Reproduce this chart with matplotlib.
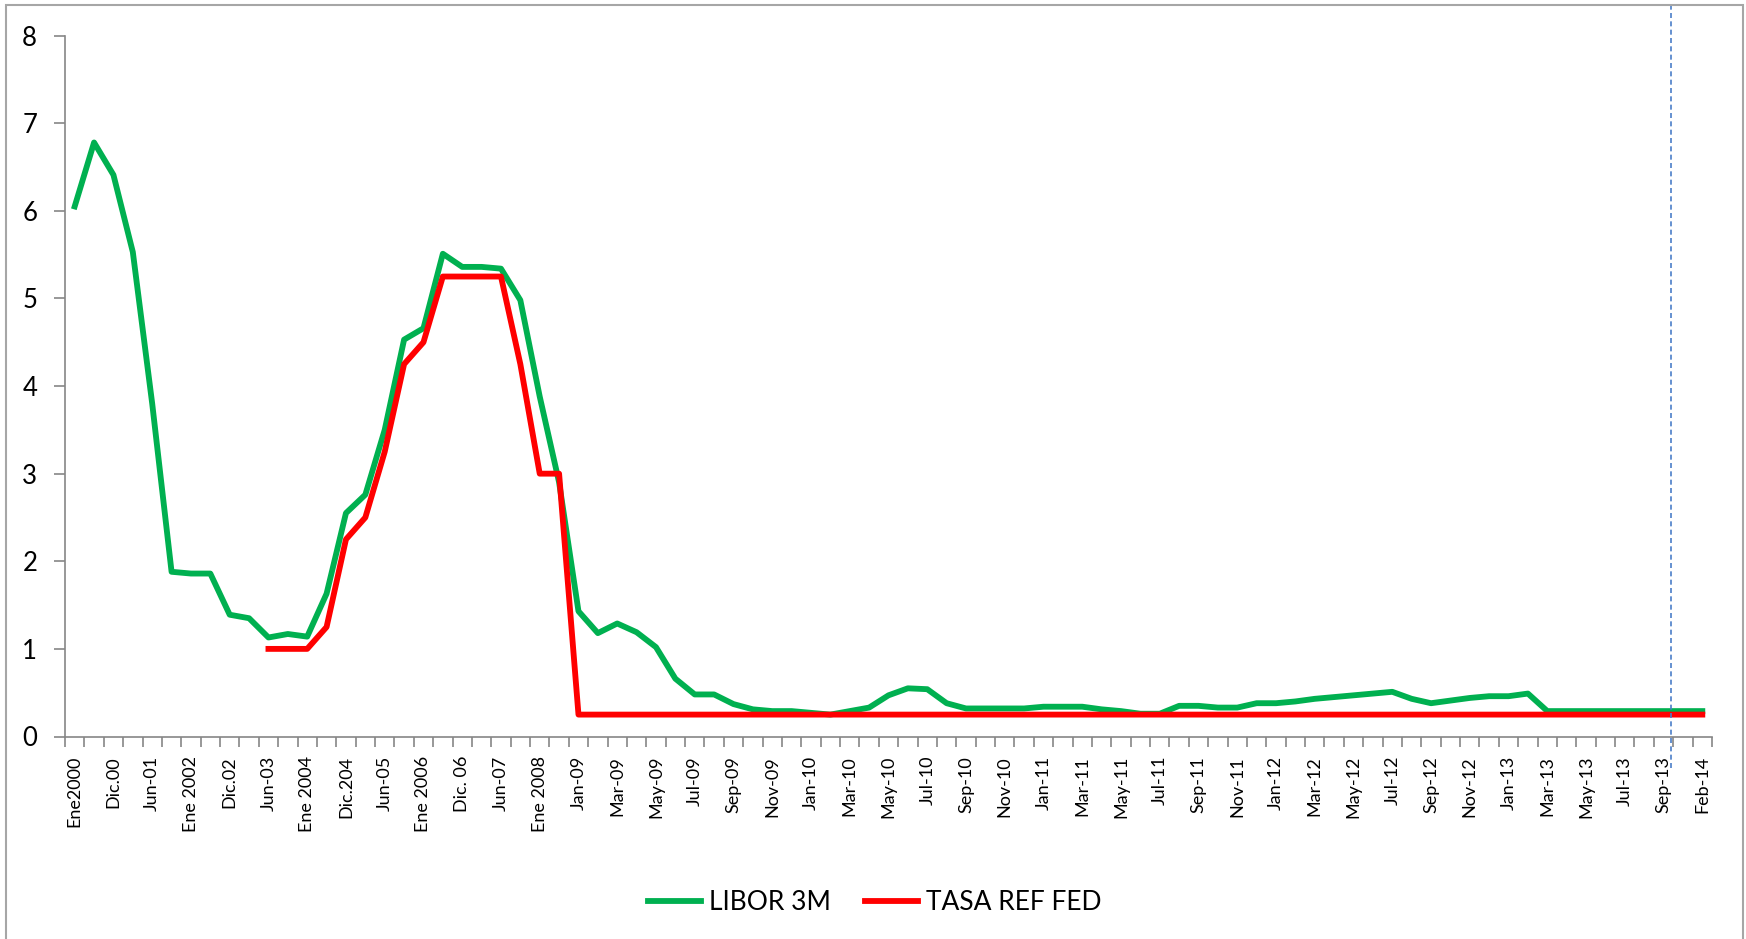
import matplotlib.pyplot as plt
import numpy as np
from matplotlib.patches import Rectangle

plt.rcParams['font.family'] = ['Lato', 'DejaVu Sans']

# category axis: 85 points, only every other one is labelled
tick_labels = ['Ene2000', 'Dic.00', 'Jun-01', 'Ene 2002', 'Dic.02', 'Jun-03',
               'Ene 2004', 'Dic.204', 'Jun-05', 'Ene 2006', 'Dic. 06', 'Jun-07',
               'Ene 2008', 'Jan-09', 'Mar-09', 'May-09', 'Jul-09', 'Sep-09',
               'Nov-09', 'Jan-10', 'Mar-10', 'May-10', 'Jul-10', 'Sep-10',
               'Nov-10', 'Jan-11', 'Mar-11', 'May-11', 'Jul-11', 'Sep-11',
               'Nov-11', 'Jan-12', 'Mar-12', 'May-12', 'Jul-12', 'Sep-12',
               'Nov-12', 'Jan-13', 'Mar-13', 'May-13', 'Jul-13', 'Sep-13',
               'Feb-14']

libor = [6.05, 6.78, 6.41, 5.53, 3.80, 1.88, 1.86, 1.86, 1.39, 1.35,
         1.13, 1.17, 1.14, 1.63, 2.55, 2.76, 3.50, 4.53, 4.66, 5.51,
         5.36, 5.36, 5.34, 4.98, 3.88, 2.90, 1.43, 1.18, 1.29, 1.19,
         1.02, 0.66, 0.48, 0.48, 0.37, 0.31, 0.29, 0.29, 0.27, 0.25,
         0.29, 0.33, 0.47, 0.55, 0.54, 0.38, 0.32, 0.32, 0.32, 0.32,
         0.34, 0.34, 0.34, 0.31, 0.29, 0.26, 0.26, 0.35, 0.35, 0.33,
         0.33, 0.38, 0.38, 0.40, 0.43, 0.45, 0.47, 0.49, 0.51, 0.43,
         0.38, 0.41, 0.44, 0.46, 0.46, 0.49, 0.29, 0.29, 0.29, 0.29,
         0.29, 0.29, 0.29, 0.29, 0.29]

# fed rate starts at Jun-03 (category 10)
fed_start = 10
tasa_fed = [1.00, 1.00, 1.00, 1.25, 2.25, 2.50, 3.25, 4.25, 4.50, 5.25,
            5.25, 5.25, 5.25, 4.25, 3.00, 3.00] + [0.25] * 59

marker_x = 82.4   # dashed vertical marker near Sep-13

fig = plt.figure(figsize=(17.46, 9.39), dpi=100)
ax = fig.add_axes([65 / 1746, 1 - 736.5 / 939, (1712 - 65) / 1746, (736.5 - 35.6) / 939])

x = np.arange(len(libor))
ax.plot(x, libor, color='#00B050', lw=4.2, label='LIBOR 3M')
ax.plot(x[fed_start:], tasa_fed, color='#FF0000', lw=4.2, label='TASA REF FED')

ax.vlines(marker_x, -0.36, 8.35, colors='#4A7EC8', linestyles=(0, (3, 2)),
          lw=1.2, clip_on=False)

ax.set_xlim(-0.5, len(libor) - 0.5)
ax.set_ylim(0, 8)

for s in ['top', 'right']:
    ax.spines[s].set_visible(False)
for s in ['left', 'bottom']:
    ax.spines[s].set_color('#868686')
    ax.spines[s].set_linewidth(1.2)

ax.set_yticks(range(0, 9))
ax.tick_params(axis='y', direction='out', length=8, width=1.2, color='#868686',
               labelsize=18.5, pad=12)

ax.set_xticks(np.arange(-0.5, len(libor), 1))
ax.set_xticklabels([])
ax.set_xticks(np.arange(0, len(libor), 2), minor=True)
ax.set_xticklabels(tick_labels, minor=True, rotation=90, fontsize=13)
ax.tick_params(axis='x', which='major', direction='out', length=7.5, width=1.2,
               color='#868686')
ax.tick_params(axis='x', which='minor', length=0, pad=14)

fig.legend(loc='center', bbox_to_anchor=(875 / 1746, 1 - 903 / 939), ncol=2,
           frameon=False, fontsize=19, handlelength=2.0, handletextpad=0.3,
           columnspacing=1.3)

fig.patches.append(Rectangle((5.5 / 1746, -0.01), (1743 - 5.5) / 1746, 1.01 - 5 / 939,
                             transform=fig.transFigure, fill=False,
                             edgecolor='#A6A6A6', lw=1.5))

fig.savefig('out.png', dpi=100)
